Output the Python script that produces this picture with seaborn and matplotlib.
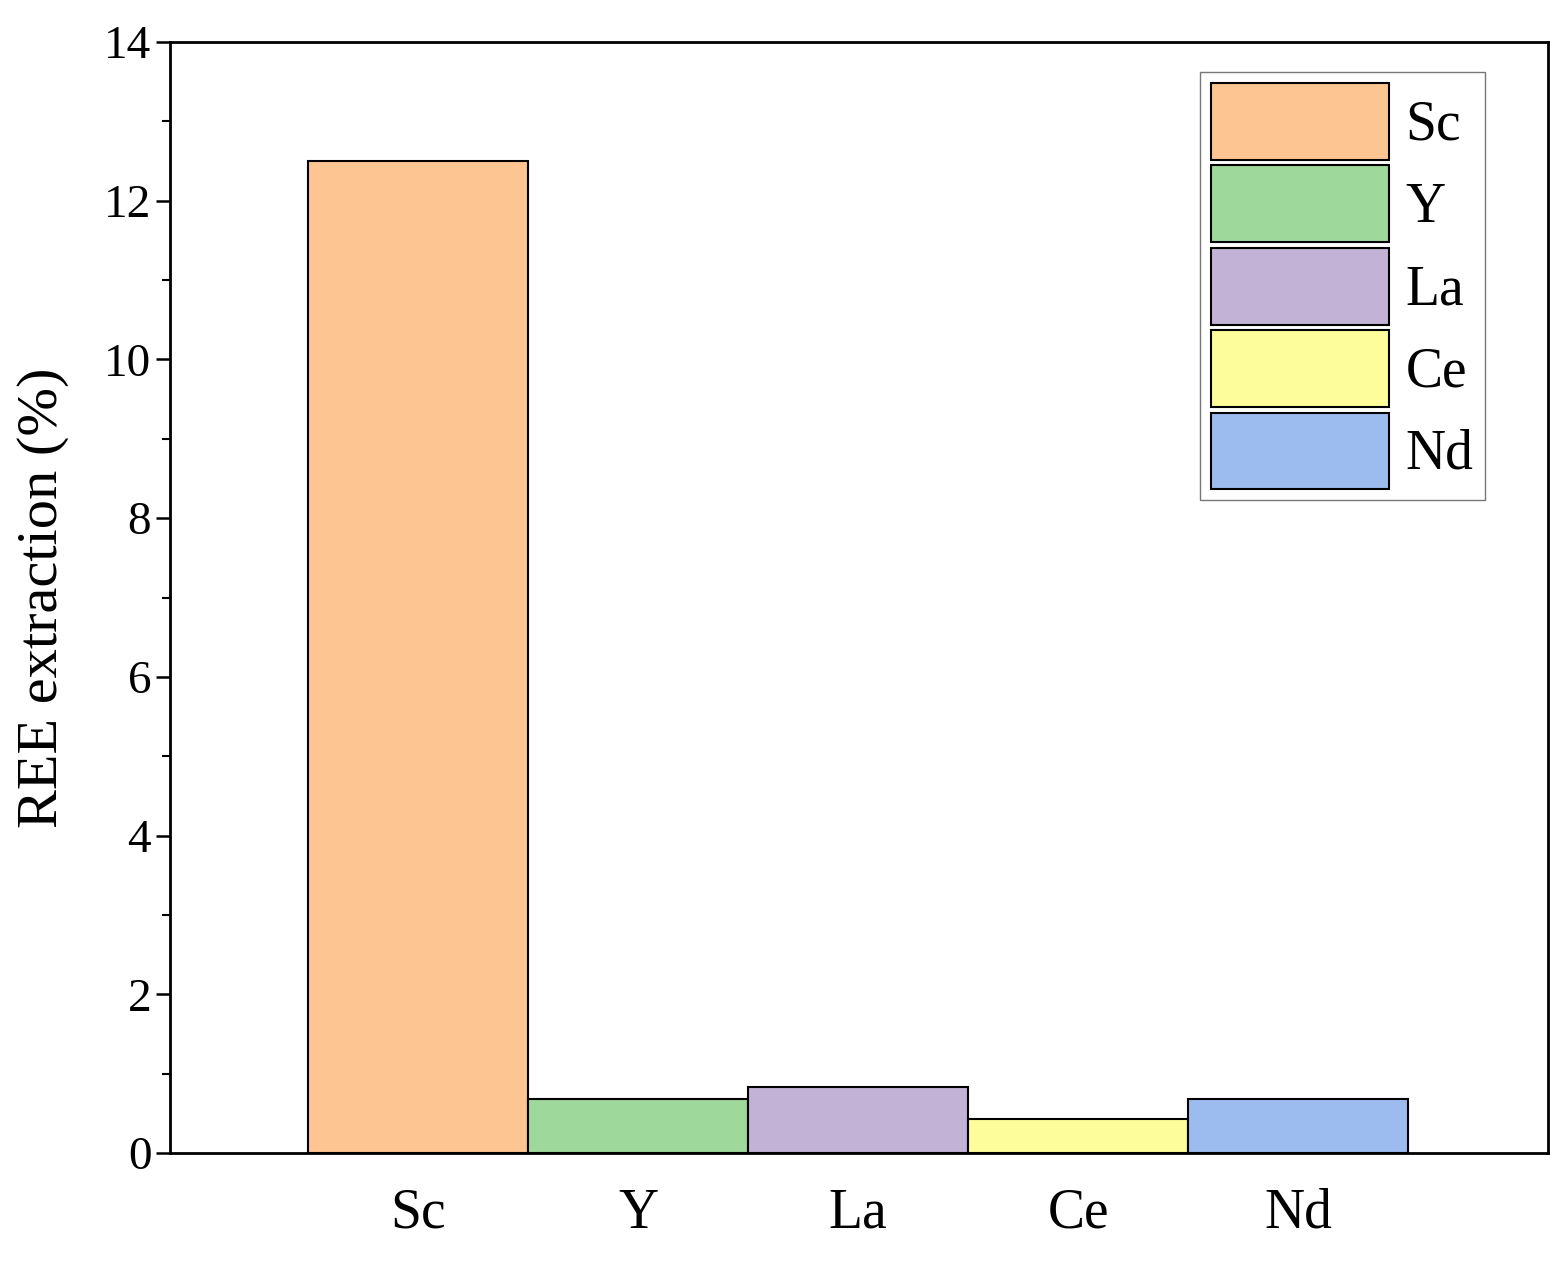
import matplotlib
matplotlib.use("Agg")
import matplotlib.pyplot as plt
import seaborn as sns
import pandas as pd
from matplotlib.ticker import MultipleLocator

elements = ["Sc", "Y", "La", "Ce", "Nd"]
extraction = [12.5, 0.68, 0.83, 0.43, 0.68]
colors = ["#FDC591", "#9FD89B", "#C2B2D6", "#FDFD9B", "#9CBCF0"]

sns.set_style("ticks")
plt.rcParams['font.family'] = ['Liberation Serif', 'DejaVu Serif']
plt.rcParams['text.color'] = 'black'
plt.rcParams['axes.labelcolor'] = 'black'
plt.rcParams['xtick.color'] = 'black'
plt.rcParams['ytick.color'] = 'black'

df = pd.DataFrame({"el": elements, "val": extraction})
fig = plt.figure(figsize=(15.68, 12.76), dpi=100)
ax = fig.add_axes([170/1568, 1-1153/1276, 1378/1568, (1153-42)/1276])
sns.barplot(data=df, x="el", y="val", hue="el", palette=colors, width=1.0,
            dodge=False, saturation=1, edgecolor="black", linewidth=1.5, ax=ax, legend=True)
ax.set_xlim(-1.127, 5.136)
ax.set_ylim(0, 14)
ax.yaxis.set_major_locator(MultipleLocator(2))
ax.yaxis.set_minor_locator(MultipleLocator(1))
ax.tick_params(axis='y', which='major', length=10, width=1.8, labelsize=34)
ax.tick_params(axis='y', which='minor', length=6, width=1.5)
ax.tick_params(axis='x', length=0, labelsize=40, pad=25)
ax.set_xlabel("")
ax.set_ylabel("REE extraction (%)", fontsize=42, labelpad=25)
for s in ax.spines.values():
    s.set_linewidth(2)
    s.set_color("black")
    s.set_visible(True)
leg = ax.legend(loc="upper right", fontsize=40, handlelength=3.2, handleheight=1.75,
                frameon=True, fancybox=False, edgecolor="#555555", borderpad=0.2,
                labelspacing=0.1, handletextpad=0.3, borderaxespad=0,
                bbox_to_anchor=(0.954, 0.973))
fig.savefig("out.png", dpi=100)
